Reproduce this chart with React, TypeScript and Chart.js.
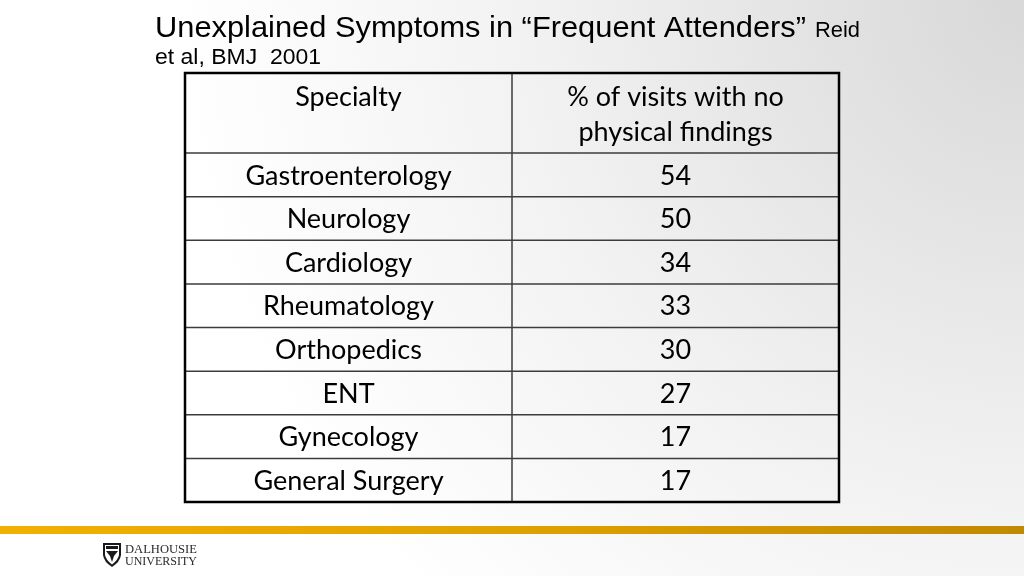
import React, { useEffect, useRef } from "react";
import { Chart, registerables } from "chart.js";

Chart.register(...registerables);

const titleMain = "Unexplained Symptoms in \u201CFrequent Attenders\u201D";
const titleTail = "Reid";
const titleLine2 = "et al, BMJ  2001";
const headerLeft = ["Specialty"];
const headerRight = ["% of visits with no", "physical findings"];
const specialties = [
  "Gastroenterology",
  "Neurology",
  "Cardiology",
  "Rheumatology",
  "Orthopedics",
  "ENT",
  "Gynecology",
  "General Surgery",
];
const percentNoFindings = [54, 50, 34, 33, 30, 27, 17, 17];
const logoLines = ["DALHOUSIE", "UNIVERSITY"];

const CELL_FONT = "Lato, 'Open Sans', sans-serif";
const TITLE_FONT = "'Liberation Sans', Arial, sans-serif";

function fitText(ctx: CanvasRenderingContext2D, text: string, x: number, y: number, width: number) {
  const mw = ctx.measureText(text).width;
  ctx.save();
  ctx.translate(x, y);
  ctx.scale(width / mw, 1);
  ctx.fillText(text, 0, 0);
  ctx.restore();
}

const tablePlugin = {
  id: "tablePlugin",
  beforeDraw(chart: any) {
    const ctx = chart.ctx as CanvasRenderingContext2D;
    const W = chart.width;
    const H = chart.height;
    ctx.save();
    const g = ctx.createRadialGradient(W, 0, 0, W, 0, 1000);
    g.addColorStop(0, "#d8d8d8");
    g.addColorStop(0.5, "#f2f2f2");
    g.addColorStop(0.85, "#ffffff");
    g.addColorStop(1, "#ffffff");
    ctx.fillStyle = g;
    ctx.fillRect(0, 0, W, H);

    // orange band
    const og = ctx.createLinearGradient(0, 0, W, 0);
    og.addColorStop(0, "#f2b100");
    og.addColorStop(0.5, "#e0a200");
    og.addColorStop(1, "#c08a00");
    ctx.fillStyle = og;
    ctx.fillRect(0, 526, W, 8);

    // title
    ctx.fillStyle = "#000";
    ctx.textBaseline = "alphabetic";
    ctx.textAlign = "left";
    ctx.font = `29px ${TITLE_FONT}`;
    fitText(ctx, titleMain, 155, 37, 651);
    ctx.font = `22px ${TITLE_FONT}`;
    fitText(ctx, titleTail, 815, 37, 45);
    fitText(ctx, titleLine2, 155, 64, 166);

    // logo
    ctx.fillStyle = "#1a1a1a";
    ctx.beginPath();
    ctx.moveTo(103, 543);
    ctx.lineTo(121, 543);
    ctx.lineTo(121, 555);
    ctx.quadraticCurveTo(120, 562, 112, 567);
    ctx.quadraticCurveTo(104, 562, 103, 555);
    ctx.closePath();
    ctx.fill();
    ctx.fillStyle = "#fff";
    ctx.beginPath();
    ctx.moveTo(105, 545);
    ctx.lineTo(119, 545);
    ctx.lineTo(119, 555);
    ctx.quadraticCurveTo(118, 560, 112, 564.5);
    ctx.quadraticCurveTo(106, 560, 105, 555);
    ctx.closePath();
    ctx.fill();
    ctx.fillStyle = "#1a1a1a";
    ctx.fillRect(106, 546, 12, 3);
    ctx.beginPath();
    ctx.moveTo(106, 551);
    ctx.lineTo(118, 551);
    ctx.lineTo(114, 556);
    ctx.lineTo(112, 562);
    ctx.lineTo(110, 556);
    ctx.closePath();
    ctx.fill();
    ctx.fillStyle = "#2a2a2a";
    ctx.font = `12.5px 'Liberation Serif', 'DejaVu Serif', serif`;
    fitText(ctx, logoLines[0], 125, 553, 72);
    fitText(ctx, logoLines[1], 125, 565, 72);
    ctx.restore();
  },
  afterDraw(chart: any) {
    const ctx = chart.ctx as CanvasRenderingContext2D;
    const xs = chart.scales.x;
    const ys = chart.scales.y;
    const area = chart.chartArea;
    const n = specialties.length;
    const band = (area.bottom - area.top) / n;
    const x0 = xs.getPixelForValue(0);
    const x1 = xs.getPixelForValue(1);
    const x2 = xs.getPixelForValue(2);
    const headerTop = area.top - 80;
    ctx.save();

    // inner lines
    ctx.strokeStyle = "#3c3c3c";
    ctx.lineWidth = 1.5;
    ctx.beginPath();
    for (let i = 0; i < n; i++) {
      const yTop = ys.getPixelForValue(i) - band / 2;
      ctx.moveTo(x0, yTop);
      ctx.lineTo(x2, yTop);
    }
    ctx.moveTo(x1, headerTop);
    ctx.lineTo(x1, area.bottom);
    ctx.stroke();

    // outer border
    ctx.strokeStyle = "#000";
    ctx.lineWidth = 2.5;
    ctx.strokeRect(x0, headerTop, x2 - x0, area.bottom - headerTop);

    // text
    ctx.fillStyle = "#000";
    ctx.textAlign = "center";
    ctx.textBaseline = "middle";
    ctx.font = `27px ${CELL_FONT}`;
    const cL = (x0 + x1) / 2;
    const cR = (x1 + x2) / 2;
    headerLeft.forEach((t, k) => ctx.fillText(t, cL, headerTop + 24 + k * 35));
    headerRight.forEach((t, k) => ctx.fillText(t, cR, headerTop + 24 + k * 35));
    for (let i = 0; i < n; i++) {
      const yc = ys.getPixelForValue(i) + 1;
      ctx.fillText(specialties[i], cL, yc);
      ctx.fillText(String(percentNoFindings[i]), cR, yc);
    }
    ctx.restore();
  },
};

export default function App() {
  const ref = useRef<HTMLCanvasElement | null>(null);
  useEffect(() => {
    document.body.style.margin = "0";
    const canvas = ref.current!;
    const chart = new Chart(canvas, {
      type: "bar",
      data: {
        labels: specialties,
        datasets: [
          {
            data: percentNoFindings,
            backgroundColor: "rgba(0,0,0,0)",
            borderWidth: 0,
            xAxisID: "xv",
          },
        ],
      },
      options: {
        indexAxis: "y",
        responsive: false,
        animation: false,
        devicePixelRatio: 1,
        layout: { padding: { left: 185, right: 185, top: 153, bottom: 74 } },
        scales: {
          x: { type: "linear", min: 0, max: 2, display: false },
          xv: { type: "linear", min: 0, max: 100, display: false },
          y: { type: "category", display: false, offset: true },
        },
        plugins: { legend: { display: false }, tooltip: { enabled: false } },
      },
      plugins: [tablePlugin],
    } as any);
    return () => chart.destroy();
  }, []);
  return (
    <div style={{ position: "fixed", left: 0, top: 0, width: 1024, height: 576 }}>
      <canvas ref={ref} width={1024} height={576} style={{ width: 1024, height: 576 }} />
    </div>
  );
}
